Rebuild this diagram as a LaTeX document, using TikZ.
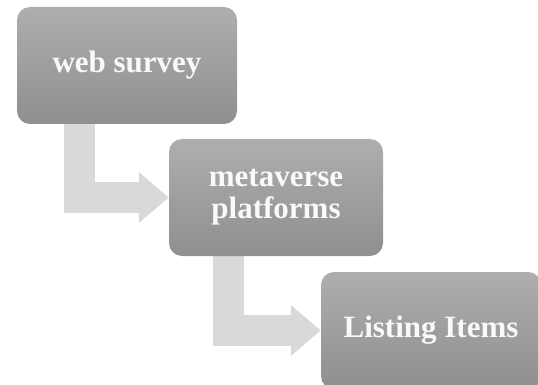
\documentclass[tikz,border=0pt]{standalone}
\usepackage{fontspec}
\setmainfont{Liberation Serif}
\usetikzlibrary{arrows.meta, backgrounds}

\definecolor{boxtop}{HTML}{AEAEAE}
\definecolor{boxbot}{HTML}{8F8F8F}
\definecolor{flowgray}{HTML}{D9D9D9}

\begin{document}
\begin{tikzpicture}[x=1pt, y=-1pt,
    stepbox/.style={rounded corners=13pt, top color=boxtop, bottom color=boxbot,
        minimum height=117pt, inner sep=0pt, align=center, text=white!95!gray,
        font=\fontsize{31}{32}\selectfont\bfseries},
    flow/.style={draw=flowgray, line width=31pt, -{Triangle[width=49pt, length=30pt]}}]
    % Rahmen
    \clip (0,0) rectangle (538,385);
    \useasboundingbox (0,0) rectangle (538,385);

    % Kaesten
    \node[stepbox, minimum width=220pt] (survey) at (127,65.5) {web survey};
    \node[stepbox, minimum width=214pt] (platforms) at (276,197.5) {metaverse\\platforms};
    \node[stepbox, minimum width=220pt] (items) at (431,330.5) {Listing Items};

    % Pfeile hinter den Kaesten
    \begin{pgfonlayer}{background}
        \draw[flow] (survey.south -| 79,0) |- (platforms.west);
        \draw[flow] (platforms.south -| 228,0) |- (items.west);
    \end{pgfonlayer}
\end{tikzpicture}
\end{document}
